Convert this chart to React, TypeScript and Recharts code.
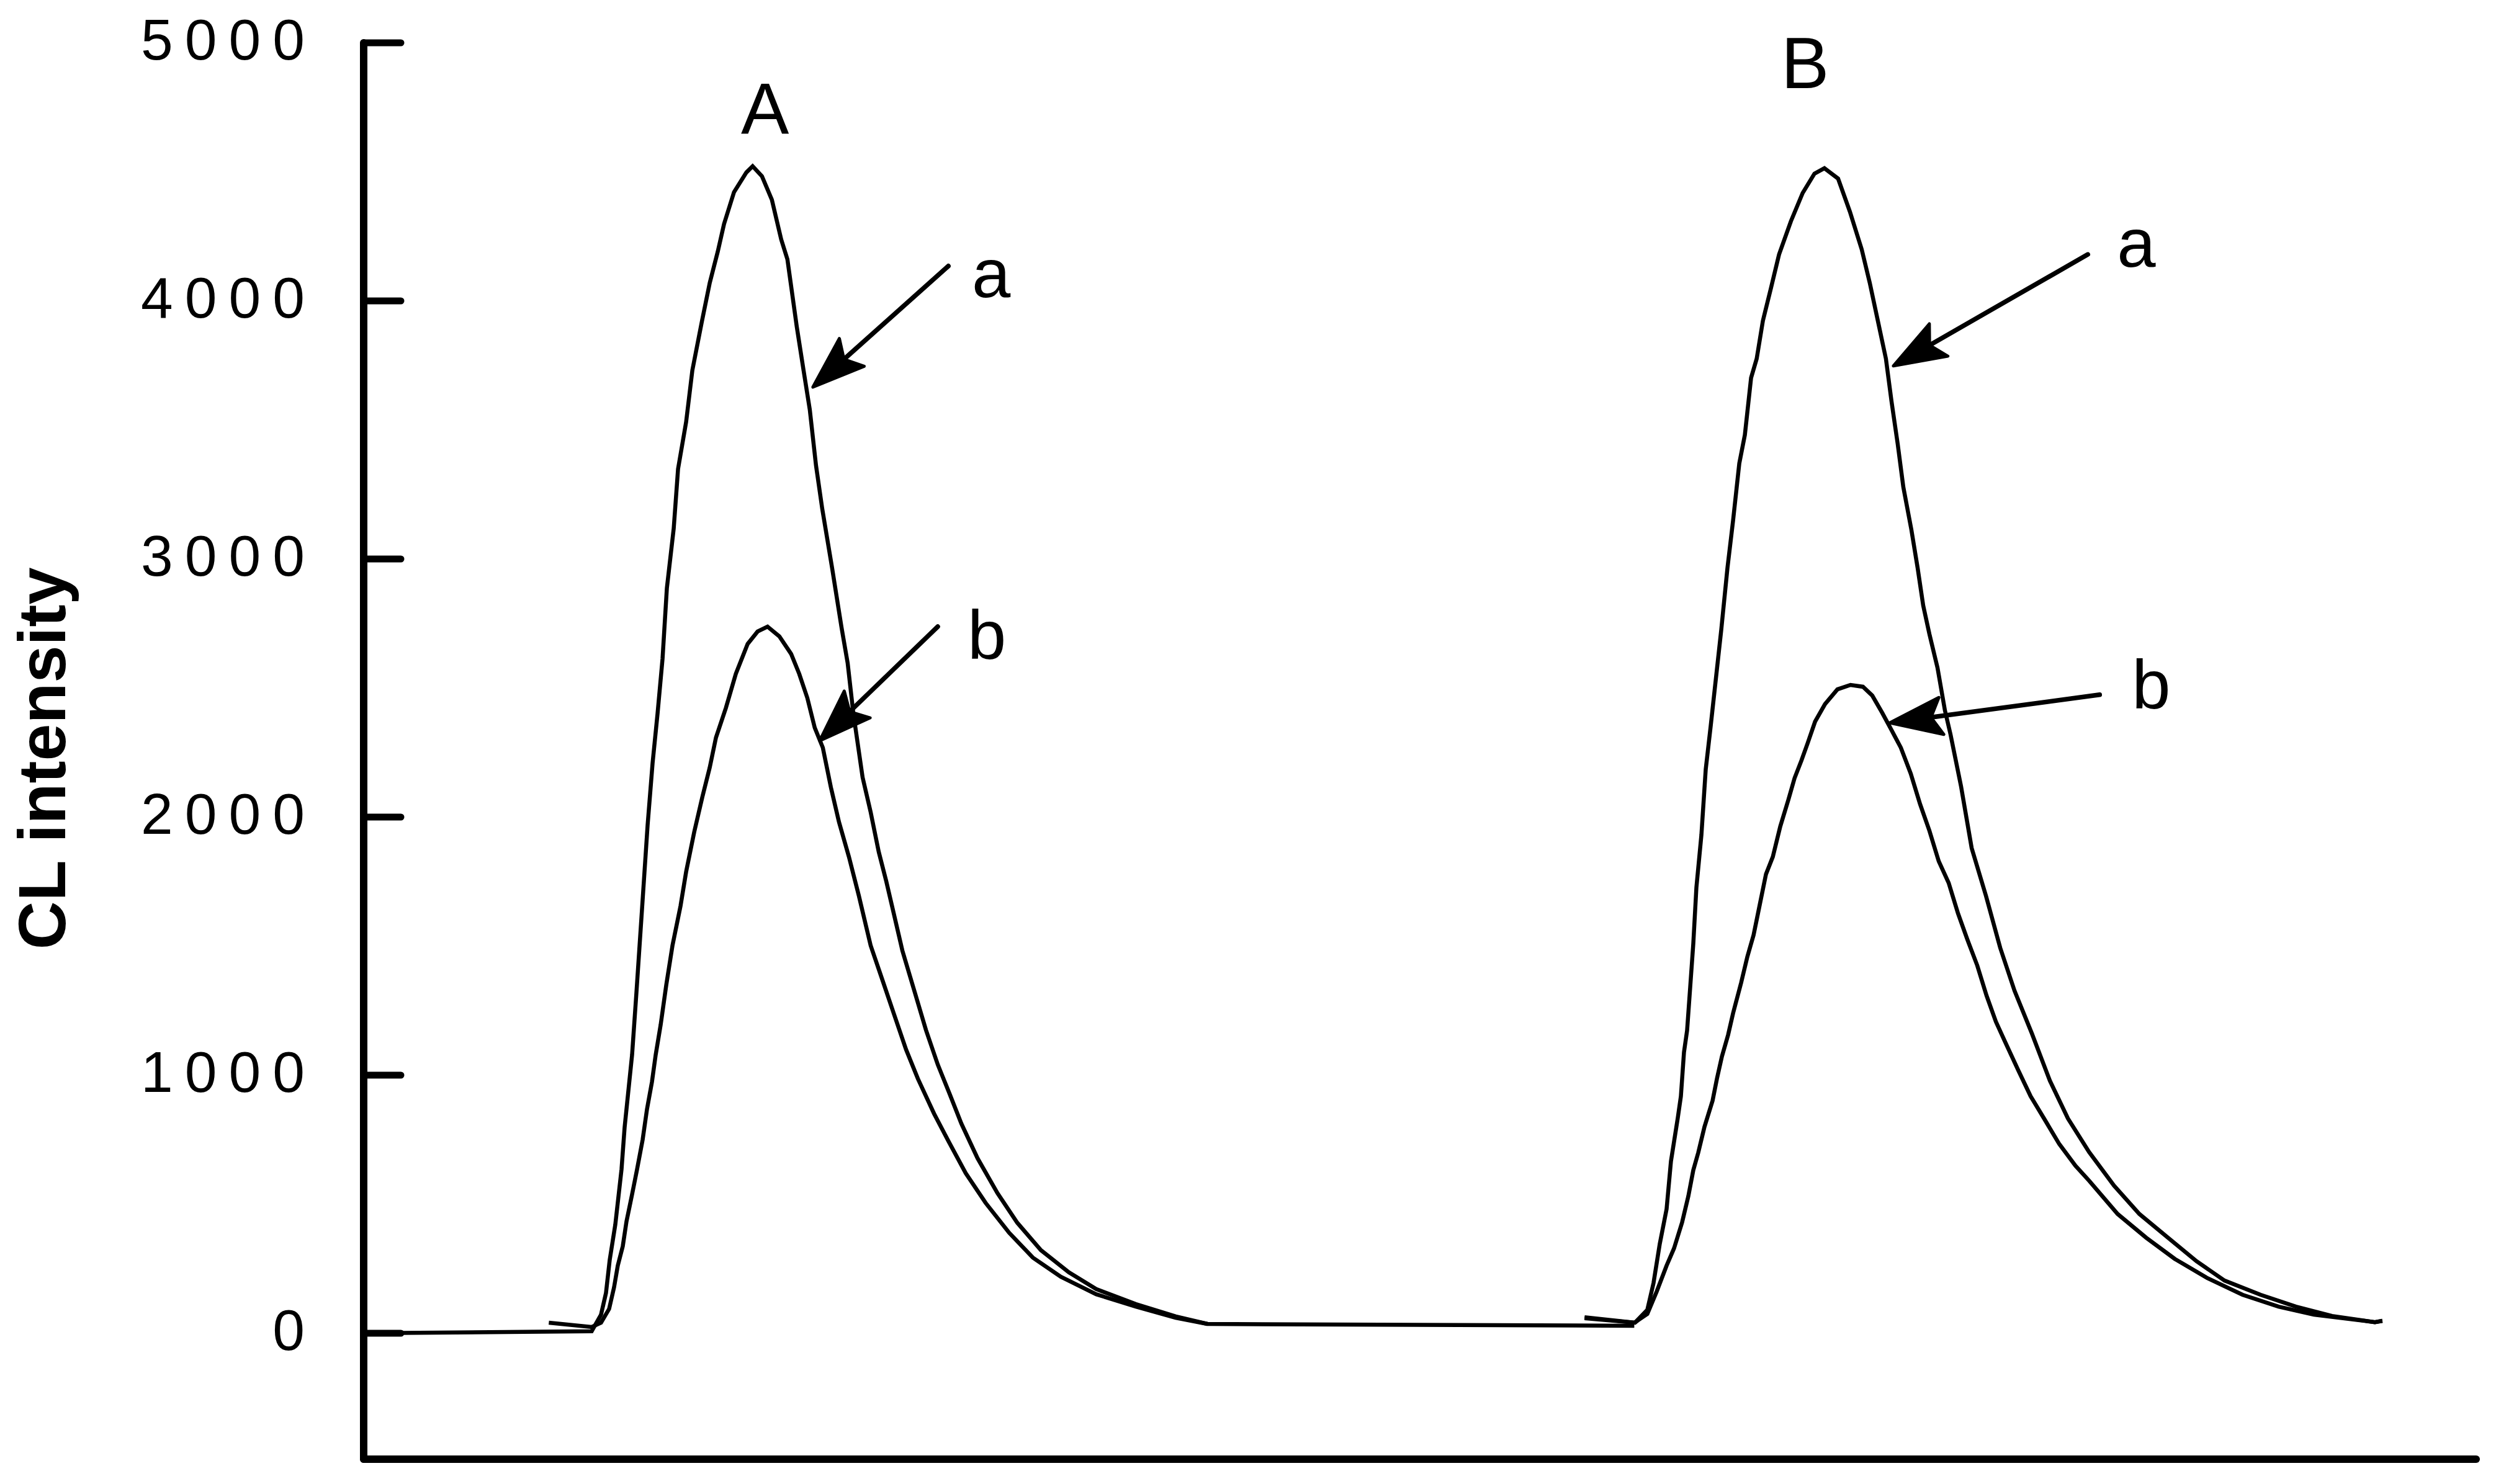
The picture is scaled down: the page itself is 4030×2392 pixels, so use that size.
import { LineChart, Line, XAxis, YAxis, ReferenceLine, ReferenceDot } from "recharts";

// time axis is unlabeled in the original; t is in arbitrary units (0–340)
const Y_TICKS = [0, 1000, 2000, 3000, 4000, 5000];

// sample A, curve a (includes the lead-in baseline and the flat stretch up to B)
const A_CURVE_A: [number, number][] = [
  [0, 0], [36.7, 8], [38.2, 72], [39.0, 156], [39.6, 284], [40.5, 421], [41.5, 635],
  [42.0, 798], [43.2, 1079], [43.9, 1320], [44.9, 1680], [45.7, 1969], [46.5, 2209],
  [47.3, 2401], [48.1, 2613], [48.8, 2887], [49.9, 3118], [50.6, 3349], [51.9, 3531],
  [52.9, 3731], [54.4, 3916], [55.7, 4070], [57.0, 4192], [58.0, 4298], [59.6, 4421],
  [61.6, 4498], [62.6, 4522], [64.1, 4483], [65.7, 4392], [67.2, 4238], [68.2, 4161],
  [69.7, 3901], [70.8, 3731], [71.8, 3579], [72.8, 3363], [73.8, 3195], [75.4, 2964],
  [76.9, 2736], [77.9, 2596], [78.8, 2404], [80.3, 2154], [81.6, 2019], [82.9, 1865],
  [84.1, 1752], [85.4, 1618], [86.7, 1483], [88.6, 1329], [90.5, 1175], [92.4, 1041],
  [94.3, 928], [96.2, 812], [98.8, 678], [102.0, 543], [105.2, 428], [109.0, 322],
  [113.5, 236], [117.9, 171], [124.3, 113], [130.7, 65], [135.8, 36], [204.5, 29],
];

// sample A, curve b
const A_CURVE_B: [number, number][] = [
  [29.8, 41], [36.7, 24], [38.2, 41], [39.5, 94], [40.3, 178], [40.9, 262], [41.7, 337],
  [42.3, 433], [43.2, 538], [44.0, 635], [44.9, 750], [45.6, 868], [46.4, 974],
  [47.0, 1079], [47.8, 1195], [48.7, 1349], [49.7, 1502], [51.0, 1656], [51.9, 1788],
  [53.2, 1942], [54.5, 2077], [55.7, 2192], [56.7, 2308], [58.3, 2423], [59.9, 2555],
  [61.8, 2671], [63.4, 2719], [65.0, 2738], [66.9, 2700], [68.8, 2632], [70.1, 2555],
  [71.4, 2462], [72.6, 2346], [73.9, 2269], [75.2, 2115], [76.5, 1981], [78.1, 1846],
  [79.7, 1695], [81.6, 1502], [83.5, 1368], [85.4, 1233], [87.3, 1099], [89.2, 986],
  [91.8, 851], [94.3, 736], [96.9, 620], [100.1, 505], [103.9, 389], [107.7, 293],
  [112.2, 219], [117.9, 151], [124.3, 103], [130.7, 60], [135.8, 36],
];

// sample B, curve a
const B_CURVE_A: [number, number][] = [
  [196.5, 58], [204.6, 41], [206.6, 91], [207.6, 195], [208.6, 346], [209.7, 481],
  [210.4, 666], [211.5, 834], [212.0, 918], [212.5, 1089], [213.0, 1173], [213.5, 1341],
  [214.0, 1510], [214.5, 1728], [215.3, 1930], [216.0, 2185], [216.8, 2353], [217.5, 2507],
  [218.5, 2726], [219.5, 2966], [220.4, 3149], [221.4, 3370], [222.3, 3481], [223.3, 3702],
  [224.2, 3776], [225.2, 3923], [226.5, 4050], [227.8, 4180], [229.7, 4308], [231.6, 4418],
  [233.5, 4493], [235.1, 4514], [237.3, 4474], [239.2, 4346], [241.1, 4200], [242.4, 4070],
  [243.7, 3923], [245.0, 3776], [245.9, 3611], [246.9, 3445], [247.8, 3279], [249.1, 3113],
  [250.1, 2966], [251.0, 2820], [252.0, 2709], [253.3, 2579], [254.5, 2413], [255.4, 2320],
  [257.1, 2118], [258.8, 1880], [261.1, 1695], [263.4, 1493], [265.7, 1327], [268.5, 1161],
  [271.4, 978], [274.3, 832], [277.7, 702], [281.7, 572], [285.8, 462], [290.4, 370],
  [295.0, 279], [299.5, 204], [305.3, 149], [311.0, 103], [316.8, 67], [323.7, 43], [324.9, 48],
];

// sample B, curve b
const B_CURVE_B: [number, number][] = [
  [196.5, 62], [204.6, 41], [205.1, 50], [206.6, 75], [208.1, 161], [209.7, 262],
  [210.9, 329], [212.2, 430], [213.2, 531], [214.0, 632], [214.8, 700], [215.8, 800],
  [217.1, 901], [217.8, 986], [218.6, 1072], [219.6, 1156], [220.4, 1240], [221.7, 1358],
  [222.7, 1459], [223.7, 1543], [224.7, 1661], [225.7, 1779], [226.8, 1846], [228.0, 1964],
  [229.3, 2067], [230.3, 2151], [231.4, 2219], [232.4, 2286], [233.6, 2370], [235.2, 2438],
  [237.2, 2495], [239.3, 2512], [241.3, 2505], [242.8, 2471], [244.4, 2404], [245.9, 2337],
  [247.4, 2269], [249.0, 2168], [250.5, 2050], [252.0, 1947], [253.5, 1829], [255.1, 1745],
  [256.6, 1627], [258.1, 1526], [259.7, 1425], [261.2, 1308], [262.7, 1207], [264.3, 1123],
  [266.3, 1019], [268.3, 918], [270.4, 834], [272.9, 733], [275.5, 649], [277.7, 591],
  [282.3, 462], [286.9, 370], [291.5, 288], [296.7, 214], [302.4, 149], [308.2, 103],
  [313.9, 72], [319.6, 55], [323.7, 43], [324.9, 48],
];

// annotation arrows: [tailT, tailV, tipT, tipV]
const ARROWS: [number, number, number, number][] = [
  [94.1, 4135, 72.3, 3666],
  [92.4, 2738, 73.4, 2296],
  [277.5, 4180, 246.2, 3748],
  [279.4, 2474, 245.6, 2365],
];

// annotation letters: [text, t, v at baseline, size]
const LETTERS: [string, number, number, number][] = [
  ["A", 64.6, 4647, 116],
  ["B", 232.0, 4825, 116],
  ["a", 101.0, 4014, 112],
  ["b", 100.3, 2613, 112],
  ["a", 285.3, 4132, 112],
  ["b", 287.7, 2421, 112],
];

const FONT = "'Liberation Sans', Arial, Helvetica, sans-serif";
const toPts = (rows: [number, number][]) => rows.map(([t, v]) => ({ t, v }));

const YTick = (props: any) => {
  const { x, y, payload } = props;
  return (
    <g>
      <line x1={x} y1={y} x2={x + 60} y2={y} stroke="#000" strokeWidth={11} strokeLinecap="round" />
      <text x={x - 76} y={y + 27} textAnchor="end" fontSize={93} letterSpacing={19} fontFamily={FONT} fill="#000">
        {payload.value}
      </text>
    </g>
  );
};

const Arrow = (props: any) => {
  const { x1, y1, x2, y2 } = props;
  const dx = x2 - x1;
  const dy = y2 - y1;
  const len = Math.hypot(dx, dy) || 1;
  const ux = dx / len;
  const uy = dy / len;
  const px = -uy;
  const py = ux;
  const L = 84;
  const W = 30;
  const bx = x2 - ux * L;
  const by = y2 - uy * L;
  const nx = x2 - ux * L * 0.8;
  const ny = y2 - uy * L * 0.8;
  return (
    <g>
      <line x1={x1} y1={y1} x2={nx} y2={ny} stroke="#000" strokeWidth={7.5} strokeLinecap="round" />
      <polygon
        points={`${x2},${y2} ${bx + px * W},${by + py * W} ${nx},${ny} ${bx - px * W},${by - py * W}`}
        fill="#000"
        stroke="#000"
        strokeWidth={5}
        strokeLinejoin="round"
      />
    </g>
  );
};

const YLabel = (props: any) => {
  const vb = props.viewBox || { x: 0, y: 69, width: 586, height: 2283 };
  const x = vb.x + 105;
  const y = vb.y + vb.height / 2 + 12;
  return (
    <text
      x={x}
      y={y}
      transform={`rotate(-90, ${x}, ${y})`}
      textAnchor="middle"
      fontSize={108}
      fontWeight="bold"
      fontFamily={FONT}
      fill="#000"
    >
      CL intensity
    </text>
  );
};

export default function App() {
  const lineProps = {
    type: "linear" as const,
    dataKey: "v",
    stroke: "#000",
    strokeWidth: 6.5,
    dot: false,
    activeDot: false,
    isAnimationActive: false,
  };
  return (
    <div style={{ position: "absolute", left: 0, top: 0, width: 4030, height: 2392, background: "#fff" }}>
      <LineChart width={4030} height={2392} margin={{ top: 69, right: 40, bottom: 0, left: 0 }}>
        <XAxis
          dataKey="t"
          type="number"
          domain={[0, 340]}
          ticks={[]}
          tick={false}
          tickLine={false}
          height={40}
          allowDataOverflow
          axisLine={{ stroke: "#000", strokeWidth: 12, strokeLinecap: "round" }}
        />
        <YAxis
          type="number"
          domain={[-488, 5000]}
          ticks={Y_TICKS}
          interval={0}
          width={586}
          tickSize={0}
          tickMargin={0}
          tickLine={false}
          tick={<YTick />}
          allowDataOverflow
          axisLine={{ stroke: "#000", strokeWidth: 12, strokeLinecap: "round" }}
          label={{ content: <YLabel /> }}
        />
        <Line {...lineProps} data={toPts(A_CURVE_A)} name="a-A" />
        <Line {...lineProps} data={toPts(A_CURVE_B)} name="b-A" />
        <Line {...lineProps} data={toPts(B_CURVE_A)} name="a-B" />
        <Line {...lineProps} data={toPts(B_CURVE_B)} name="b-B" />
        {ARROWS.map(([t1, v1, t2, v2], i) => (
          <ReferenceLine
            key={`arr-${i}`}
            segment={[{ x: t1, y: v1 }, { x: t2, y: v2 }]}
            shape={Arrow}
            ifOverflow="visible"
          />
        ))}
        {LETTERS.map(([txt, t, v, size], i) => (
          <ReferenceDot
            key={`lbl-${i}`}
            x={t}
            y={v}
            r={1}
            ifOverflow="visible"
            shape={(p: any) => (
              <text x={p.cx} y={p.cy} textAnchor="middle" fontSize={size} fontFamily={FONT} fill="#000">
                {txt}
              </text>
            )}
          />
        ))}
      </LineChart>
    </div>
  );
}
